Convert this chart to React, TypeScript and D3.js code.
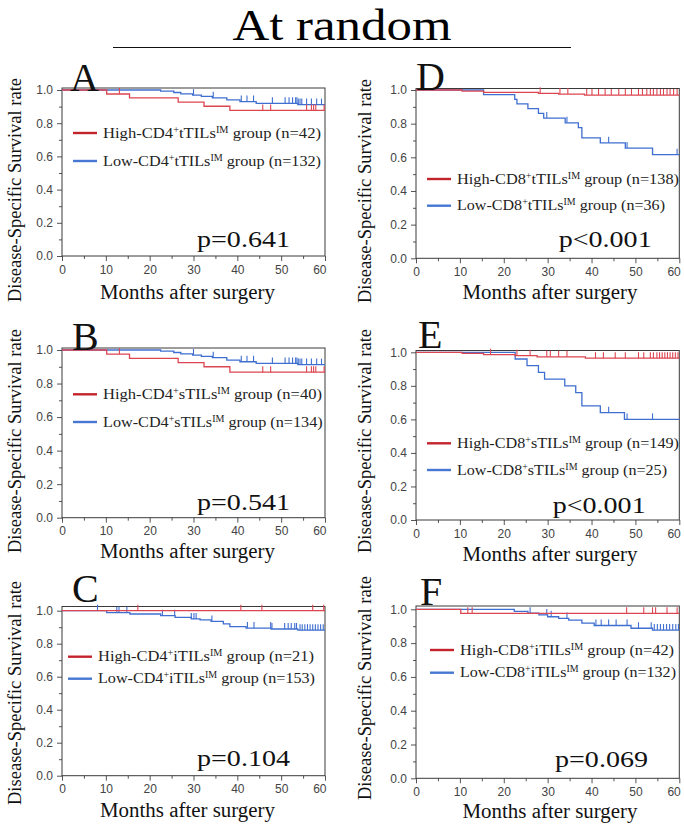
import { useEffect, useRef } from 'react';
import * as d3 from 'd3';

type Step = [number, number];

const SERIF = '"Liberation Serif", "DejaVu Serif", serif';
const SANS = '"Liberation Sans", Arial, sans-serif';
const CURVE_RED = '#dc4651';
const CURVE_BLUE = '#3f6fd0';
const LEGEND_RED = '#c3242c';
const LEGEND_BLUE = '#4677d2';

const MONTH_TICKS = [0, 10, 20, 30, 40, 50, 60];
const MONTH_MINOR = [5, 15, 25, 35, 45, 55];
const RATE_TICKS = [0, 0.2, 0.4, 0.6, 0.8, 1.0];
const RATE_MINOR = [0.1, 0.3, 0.5, 0.7, 0.9];

const panelLetters = ['A', 'B', 'C', 'D', 'E', 'F'];
const panelMarkers = ['CD4', 'CD4', 'CD4', 'CD8', 'CD8', 'CD8'];
const panelSites = ['t', 's', 'i', 't', 's', 'i'];
const highCounts = [42, 40, 21, 138, 149, 42];
const lowCounts = [132, 134, 153, 36, 25, 132];
const pValues = ['p=0.641', 'p=0.541', 'p=0.104', 'p<0.001', 'p<0.001', 'p=0.069'];

// Kaplan-Meier drops: [month, survival rate after the drop]
const aHigh: Step[] = [[10.2, 0.976], [15.4, 0.952], [26.5, 0.927], [32.4, 0.902], [38.3, 0.877]];
const aHighCens = [13.1, 45.8, 47.6, 55.8, 56.9, 57.4, 57.9, 59.8];
const aLow: Step[] = [[22.5, 0.993], [25.5, 0.985], [27.1, 0.977], [29.8, 0.969], [31.8, 0.961], [34.3, 0.953], [37.6, 0.94], [40.6, 0.93], [44.3, 0.92], [53.8, 0.912]];
const aLowCens = [30.0, 34.5, 40.9, 42.2, 43.7, 48.0, 50.9, 51.8, 52.6, 53.3, 53.6, 53.9, 54.3, 54.7, 55.8, 56.9, 58.1, 59.2];

const bHigh: Step[] = [[10.2, 0.975], [15.4, 0.95], [26.5, 0.925], [32.4, 0.9], [38.3, 0.868]];
const bHighCens = [13.1, 45.8, 47.6, 55.8, 56.9, 57.4, 57.9, 59.8];
const bLow: Step[] = [[22.5, 0.993], [25.5, 0.985], [27.1, 0.977], [29.8, 0.97], [31.8, 0.962], [34.3, 0.954], [37.6, 0.94], [40.6, 0.93], [44.3, 0.92], [53.8, 0.913]];
const bLowCens = [30.0, 34.5, 40.9, 42.2, 43.7, 48.0, 50.9, 51.8, 52.6, 53.3, 53.6, 53.9, 54.3, 54.7, 55.8, 56.9, 58.1, 59.2];

const cHigh: Step[] = [];
const cHighCens = [17.3, 40.8, 45.6, 57.2, 59.7];
const cLow: Step[] = [[10.2, 0.988], [15.5, 0.98], [22.5, 0.97], [25.8, 0.96], [29.5, 0.95], [31.5, 0.944], [34.0, 0.935], [36.8, 0.92], [38.3, 0.903], [42.0, 0.895], [47.7, 0.889], [53.8, 0.882]];
const cLowCens = [8.1, 12.5, 13.0, 14.8, 22.9, 25.7, 29.5, 30.1, 30.6, 34.2, 42.3, 43.8, 47.6, 47.9, 50.8, 51.6, 52.3, 53.1, 53.5, 54.3, 54.8, 55.4, 56.0, 56.6, 57.2, 57.8, 58.4, 59.0, 59.6];

const dHigh: Step[] = [[10.5, 0.993], [15.4, 0.986], [27.9, 0.98], [32.5, 0.976], [38.4, 0.97]];
const dHighCens = [28.3, 32.8, 34.6, 38.9, 40.1, 41.6, 43.1, 44.5, 46.2, 47.7, 49.1, 50.7, 51.6, 52.6, 53.4, 54.1, 54.9, 55.7, 56.4, 57.2, 57.9, 58.7, 59.5];
const dLow: Step[] = [[15.4, 0.972], [22.5, 0.944], [23.0, 0.917], [25.5, 0.889], [27.9, 0.861], [29.1, 0.833], [34.0, 0.805], [37.0, 0.776], [37.8, 0.716], [42.0, 0.686], [47.7, 0.655], [53.9, 0.616]];
const dLowCens = [29.8, 34.4, 43.9, 48.1, 53.9, 59.5];

const eHigh: Step[] = [[10.5, 0.993], [15.4, 0.986], [22.6, 0.98], [27.6, 0.973], [38.6, 0.965]];
const eHighCens = [17.0, 23.0, 26.0, 29.8, 30.6, 32.5, 34.4, 40.9, 42.7, 45.4, 47.7, 50.7, 51.9, 53.4, 54.1, 54.9, 55.5, 56.1, 56.7, 57.3, 57.9, 58.5, 59.1, 59.7];
const eLow: Step[] = [[22.6, 0.96], [25.3, 0.92], [27.9, 0.88], [29.3, 0.84], [33.9, 0.8], [36.4, 0.76], [37.8, 0.68], [42.0, 0.64], [47.5, 0.6]];
const eLowCens = [43.9, 48.1, 53.9];

const fHigh: Step[] = [[10.2, 0.976]];
const fHighCens = [11.8, 12.8, 48.0, 51.9, 53.9, 54.6, 57.2, 59.5];
const fLow: Step[] = [[22.4, 0.988], [25.5, 0.977], [28.0, 0.967], [30.0, 0.956], [32.5, 0.946], [34.8, 0.936], [37.8, 0.918], [40.6, 0.904], [49.0, 0.888], [53.9, 0.877]];
const fLowCens = [26.0, 29.8, 30.8, 34.4, 41.0, 42.2, 43.9, 45.6, 48.1, 50.7, 53.6, 54.3, 55.0, 55.7, 56.4, 57.1, 57.8, 58.5, 59.2, 59.8];

const highSteps = [aHigh, bHigh, cHigh, dHigh, eHigh, fHigh];
const highCens = [aHighCens, bHighCens, cHighCens, dHighCens, eHighCens, fHighCens];
const lowSteps = [aLow, bLow, cLow, dLow, eLow, fLow];
const lowCens = [aLowCens, bLowCens, cLowCens, dLowCens, eLowCens, fLowCens];

// where each panel sits on the page
const LAYOUT = [
  { left: 62, right: 325, y1: 90, y0: 256, top: 88, lx: 70, ly: 91, legX: 73, legY: [133, 161], legW: [218, 218], px: 197, py: 247, yLabX: 21, yLabY: 190, xLabX: 187.5, xLabY: 299 },
  { left: 62, right: 325, y1: 350, y0: 517.7, top: 348, lx: 72, ly: 350, legX: 73, legY: [394.3, 422], legW: [219, 219.7], px: 197, py: 510, yLabX: 21, yLabY: 441, xLabX: 187.5, xLabY: 558 },
  { left: 62, right: 325, y1: 610.7, y0: 775.7, top: 606.5, lx: 72, ly: 602, legX: 68, legY: [656.7, 678.7], legW: [216, 217], px: 197, py: 766, yLabX: 21, yLabY: 693, xLabX: 187.5, xLabY: 817 },
  { left: 416, right: 679.3, y1: 90, y0: 258.3, top: 88.5, lx: 416, ly: 90, legX: 427, legY: [179, 205.7], legW: [222, 208], px: 558.7, py: 246.7, yLabX: 371, yLabY: 191, xLabX: 550, xLabY: 299 },
  { left: 416, right: 679.3, y1: 352.3, y0: 520, top: 350.5, lx: 418, ly: 348, legX: 427, legY: [443.3, 470], legW: [222, 210], px: 552.7, py: 512.7, yLabX: 371, yLabY: 441, xLabX: 550, xLabY: 560.5 },
  { left: 416, right: 679.3, y1: 609.3, y0: 778.3, top: 606, lx: 420, ly: 605, legX: 430, legY: [650, 672.7], legW: [214, 216], px: 555, py: 766.7, yLabX: 371, yLabY: 688, xLabX: 550, xLabY: 818 },
];

function rateAt(steps: Step[], t: number) {
  let s = 1;
  for (const [m, v] of steps) if (m <= t) s = v;
  return s;
}

export default function App() {
  const svgRef = useRef<SVGSVGElement>(null);

  useEffect(() => {
    if (!svgRef.current) return;
    const svg = d3.select(svgRef.current);
    svg.selectAll('*').remove();

    // title
    svg.append('text')
      .attr('x', 342).attr('y', 40)
      .attr('text-anchor', 'middle')
      .attr('font-family', SERIF).attr('font-size', 44)
      .attr('textLength', 219).attr('lengthAdjust', 'spacingAndGlyphs')
      .text('At random');
    svg.append('line')
      .attr('x1', 113).attr('x2', 571).attr('y1', 47.5).attr('y2', 47.5)
      .attr('stroke', '#111').attr('stroke-width', 1);

    LAYOUT.forEach((L, i) => {
      const x = d3.scaleLinear().domain([0, 60]).range([L.left, L.right]);
      const y = d3.scaleLinear().domain([0, 1]).range([L.y0, L.y1]);
      const g = svg.append('g');

      // axes
      const styleAxis = (a: any) => {
        a.select('.domain').remove();
        a.selectAll('line').attr('stroke', '#555');
        a.selectAll('text').attr('font-family', SANS).attr('font-size', 12).attr('fill', '#444');
      };
      const xAxis = g.append('g').attr('transform', `translate(0,${L.y0})`)
        .call(d3.axisBottom(x).tickValues(MONTH_TICKS).tickSize(5).tickPadding(4).tickFormat(d3.format('d')))
        .call(styleAxis);
      // the last label sits inside the frame's right edge
      xAxis.selectAll('.tick text').filter((d: any) => d === 60).attr('text-anchor', 'end').attr('dx', 1);
      g.append('g').attr('transform', `translate(0,${L.y0})`)
        .call(d3.axisBottom(x).tickValues(MONTH_MINOR).tickSize(3).tickFormat(() => ''))
        .call(styleAxis);
      g.append('g').attr('transform', `translate(${L.left},0)`)
        .call(d3.axisLeft(y).tickValues(RATE_TICKS).tickSize(5).tickPadding(4).tickFormat(d3.format('.1f')))
        .call(styleAxis);
      g.append('g').attr('transform', `translate(${L.left},0)`)
        .call(d3.axisLeft(y).tickValues(RATE_MINOR).tickSize(3).tickFormat(() => ''))
        .call(styleAxis);

      // frame
      g.append('rect')
        .attr('x', L.left).attr('y', L.top)
        .attr('width', L.right - L.left).attr('height', L.y0 - L.top)
        .attr('fill', 'none').attr('stroke', '#3a3a3a').attr('stroke-width', 1);

      // curves
      const line = d3.line<Step>()
        .x(d => x(d[0])).y(d => y(d[1]))
        .curve(d3.curveStepAfter);

      const groups = [
        { steps: lowSteps[i], cens: lowCens[i], color: CURVE_BLUE },
        { steps: highSteps[i], cens: highCens[i], color: CURVE_RED },
      ];
      groups.forEach(grp => {
        const last = grp.steps.length ? grp.steps[grp.steps.length - 1][1] : 1;
        const pts: Step[] = [[0, 1], ...grp.steps, [60, last]];
        g.append('path')
          .attr('d', line(pts))
          .attr('fill', 'none')
          .attr('stroke', grp.color)
          .attr('stroke-width', 1.3);
        g.selectAll(null)
          .data(grp.cens)
          .enter()
          .append('line')
          .attr('x1', d => x(d)).attr('x2', d => x(d))
          .attr('y1', d => y(rateAt(grp.steps, d)))
          .attr('y2', d => y(rateAt(grp.steps, d)) - 6)
          .attr('stroke', grp.color)
          .attr('stroke-width', 1.1);
      });

      // legend
      const entries = [
        { level: 'High', n: highCounts[i], color: LEGEND_RED },
        { level: 'Low', n: lowCounts[i], color: LEGEND_BLUE },
      ];
      entries.forEach((e, k) => {
        g.append('line')
          .attr('x1', L.legX).attr('x2', L.legX + 24)
          .attr('y1', L.legY[k]).attr('y2', L.legY[k])
          .attr('stroke', e.color).attr('stroke-width', 2.4);
        const t = g.append('text')
          .attr('x', L.legX + 30).attr('y', L.legY[k] + 4.5)
          .attr('font-family', SERIF).attr('font-size', 15.5).attr('fill', '#222')
          .attr('textLength', L.legW[k]).attr('lengthAdjust', 'spacingAndGlyphs');
        t.append('tspan').text(`${e.level}-${panelMarkers[i]}`);
        t.append('tspan').attr('font-size', '0.62em').attr('baseline-shift', '55%').text('+');
        t.append('tspan').text(`${panelSites[i]}TILs`);
        t.append('tspan').attr('font-size', '0.62em').attr('baseline-shift', '55%').text('IM');
        t.append('tspan').text(` group (n=${e.n})`);
      });

      // p value
      g.append('text')
        .attr('x', L.px).attr('y', L.py)
        .attr('font-family', SERIF).attr('font-size', 23).attr('fill', '#111')
        .attr('textLength', 93).attr('lengthAdjust', 'spacingAndGlyphs')
        .text(pValues[i]);

      // panel letter
      g.append('text')
        .attr('x', L.lx).attr('y', L.ly)
        .attr('font-family', SERIF).attr('font-size', 40).attr('fill', '#111')
        .text(panelLetters[i]);

      // axis titles
      g.append('text')
        .attr('x', L.xLabX).attr('y', L.xLabY)
        .attr('text-anchor', 'middle')
        .attr('font-family', SERIF).attr('font-size', 20).attr('fill', '#111')
        .attr('textLength', 175).attr('lengthAdjust', 'spacingAndGlyphs')
        .text('Months after surgery');
      g.append('text')
        .attr('transform', `translate(${L.yLabX},${L.yLabY}) rotate(-90)`)
        .attr('text-anchor', 'middle')
        .attr('font-family', SERIF).attr('font-size', 19).attr('fill', '#111')
        .attr('textLength', 224).attr('lengthAdjust', 'spacingAndGlyphs')
        .text('Disease-Specific Survival rate');
    });
  }, []);

  return (
    <div style={{ position: 'absolute', left: 0, top: 0, width: 684, height: 830, background: '#fff' }}>
      <svg ref={svgRef} width={684} height={830} style={{ display: 'block' }} />
    </div>
  );
}
